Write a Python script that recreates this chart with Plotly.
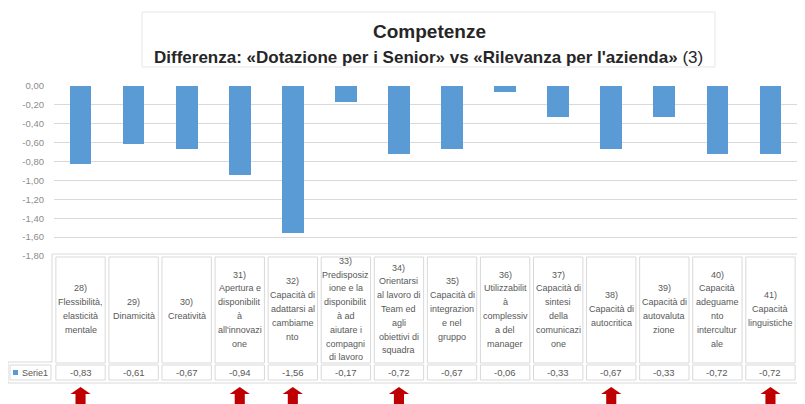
import plotly.graph_objects as go

# ---------------- data ----------------
categories = [
    "28)<br>Flessibilità,<br>elasticità<br>mentale",
    "29)<br>Dinamicità",
    "30)<br>Creatività",
    "31)<br>Apertura e<br>disponibilit<br>à<br>all'innovazi<br>one",
    "32)<br>Capacità di<br>adattarsi al<br>cambiame<br>nto",
    "33)<br>Predisposiz<br>ione e la<br>disponibilit<br>à ad<br>aiutare i<br>compagni<br>di lavoro",
    "34)<br>Orientarsi<br>al lavoro di<br>Team ed<br>agli<br>obiettivi di<br>squadra",
    "35)<br>Capacità di<br>integrazion<br>e nel<br>gruppo",
    "36)<br>Utilizzabilit<br>à<br>complessiv<br>a del<br>manager",
    "37)<br>Capacità di<br>sintesi<br>della<br>comunicazi<br>one",
    "38)<br>Capacità di<br>autocritica",
    "39)<br>Capacità di<br>autovaluta<br>zione",
    "40)<br>Capacità<br>adeguame<br>nto<br>intercultur<br>ale",
    "41)<br>Capacità<br>linguistiche",
]
values = [-0.83, -0.61, -0.67, -0.94, -1.56, -0.17, -0.72, -0.67, -0.06, -0.33, -0.67, -0.33, -0.72, -0.72]
series_name = "Serie1"
tick_values = [0.0, -0.2, -0.4, -0.6, -0.8, -1.0, -1.2, -1.4, -1.6, -1.8]
tick_labels = ["0,00", "-0,20", "-0,40", "-0,60", "-0,80", "-1,00", "-1,20", "-1,40", "-1,60", "-1,80"]
highlighted = ["28)", "31)", "32)", "34)", "38)", "41)"]
title_text = "Competenze"
subtitle_bold = "Differenza: «Dotazione per i Senior» vs «Rilevanza per l'azienda»"
subtitle_rest = " (3)"

# ---------------- layout helpers ----------------
OFF = 8                      # page body margin of the browser
W, H = 805 - 2 * OFF, 404 - OFF
ML, MR, MT = 54 - OFF, 0, 86 - OFF
MB = H - (256 - OFF)
PLOT_TOP, PLOT_BOTTOM = MT, H - MB
PLOT_W = W - ML - MR

def py(pix):
    """page pixel (y) -> paper fraction"""
    return (PLOT_BOTTOM - (pix - OFF)) / (PLOT_BOTTOM - PLOT_TOP)

def px(pix):
    """page pixel (x) -> paper fraction"""
    return ((pix - OFF) - ML) / PLOT_W

BAR_COLOR = "#5b9bd5"
GRID = "#d9d9d9"
TXT = "#595959"
FONT = "Liberation Sans, Arial, sans-serif"

n = len(categories)
xs = list(range(n))

fig = go.Figure()
fig.add_trace(go.Bar(
    x=xs, y=values, width=0.41, marker=dict(color=BAR_COLOR, line=dict(width=0)),
    name=series_name, showlegend=False, hoverinfo="skip",
))

shapes = []
annotations = []

# title box
shapes.append(dict(type="rect", xref="paper", yref="paper",
                   x0=px(142), x1=px(715), y0=py(67), y1=py(12),
                   line=dict(color="#e6e6e6", width=1), fillcolor="white", layer="below"))
annotations.append(dict(xref="paper", yref="paper", x=px(429), y=py(31), text="<b>" + title_text + "</b>",
                        showarrow=False, font=dict(size=19, color="#262626", family="Liberation Sans, Arial"),
                        xanchor="center", yanchor="middle"))
annotations.append(dict(xref="paper", yref="paper", x=px(428), y=py(58),
                        text="<b>" + subtitle_bold + "</b>" + subtitle_rest,
                        showarrow=False, font=dict(size=17, color="#262626", family="Liberation Sans, Arial"),
                        xanchor="center", yanchor="middle"))

# table frame
RIGHT = 805 - OFF
frame_lines = [
    (52, 254, RIGHT, 254), (52, 254, 52, 362), (8, 362, 52, 362),
    (8, 362, 8, 383), (8, 383, RIGHT, 383),
]
for x0, y0, x1, y1 in frame_lines:
    shapes.append(dict(type="line", xref="paper", yref="paper", x0=px(x0), x1=px(x1),
                       y0=py(y0), y1=py(y1), line=dict(color=GRID, width=1)))

LINE_H = 13.8
CELL_TOP, CELL_BOT = 257, 363
VAL_TOP, VAL_BOT = 365, 380
for i, (cat, v) in enumerate(zip(categories, values)):
    shapes.append(dict(type="rect", xref="x", yref="paper", x0=i - 0.465, x1=i + 0.465,
                       y0=py(CELL_BOT), y1=py(CELL_TOP), line=dict(color=GRID, width=1)))
    shapes.append(dict(type="rect", xref="x", yref="paper", x0=i - 0.465, x1=i + 0.465,
                       y0=py(VAL_BOT), y1=py(VAL_TOP), line=dict(color=GRID, width=1)))
    lines = cat.split("<br>")
    center = (CELL_TOP + CELL_BOT) / 2 - 1
    start = center - LINE_H * (len(lines) - 1) / 2
    for k, ln in enumerate(lines):
        annotations.append(dict(xref="x", yref="paper", x=i, y=py(start + k * LINE_H), text=ln,
                                showarrow=False, xanchor="center", yanchor="middle",
                                font=dict(size=9, color=TXT, family=FONT)))
    annotations.append(dict(xref="x", yref="paper", x=i, y=py((VAL_TOP + VAL_BOT) / 2),
                            text=f"{v:.2f}".replace(".", ","), showarrow=False,
                            xanchor="center", yanchor="middle",
                            font=dict(size=9.5, color=TXT, family=FONT)))
    if lines[0] in highlighted:
        hw, sw = 0.19, 0.095
        t, b, e = py(387), py(394), py(410)
        path = (f"M {i},{t} L {i + hw},{b} L {i + sw},{b} L {i + sw},{e} "
                f"L {i - sw},{e} L {i - sw},{b} L {i - hw},{b} Z")
        shapes.append(dict(type="path", xref="x", yref="paper", path=path,
                           fillcolor="#c00000", line=dict(width=0)))

# legend cell
shapes.append(dict(type="rect", xref="paper", yref="paper", x0=px(10), x1=px(51),
                   y0=py(VAL_BOT), y1=py(VAL_TOP), line=dict(color=GRID, width=1)))
shapes.append(dict(type="rect", xref="paper", yref="paper", x0=px(13), x1=px(18),
                   y0=py(375), y1=py(370), fillcolor=BAR_COLOR, line=dict(width=0)))
annotations.append(dict(xref="paper", yref="paper", x=px(20), y=py((VAL_TOP + VAL_BOT) / 2),
                        text=series_name, showarrow=False, xanchor="left", yanchor="middle",
                        font=dict(size=9, color=TXT, family=FONT)))

fig.update_layout(
    width=W, height=H,
    margin=dict(l=ML, r=MR, t=MT, b=MB, pad=0),
    paper_bgcolor="white", plot_bgcolor="white",
    bargap=0,
    shapes=shapes, annotations=annotations,
    xaxis=dict(range=[-0.5, n - 0.5], showticklabels=False, showgrid=False, zeroline=False,
               showline=False, ticks="", fixedrange=True),
    yaxis=dict(range=[-1.8, 0.0], tickvals=tick_values, ticktext=tick_labels,
               showgrid=True, gridcolor=GRID, gridwidth=1, zeroline=False, showline=False,
               ticks="", ticklabelstandoff=9,
               tickfont=dict(size=9.5, color="#8c8c8c", family=FONT), fixedrange=True),
    showlegend=False,
)

fig.write_html("out.html")
